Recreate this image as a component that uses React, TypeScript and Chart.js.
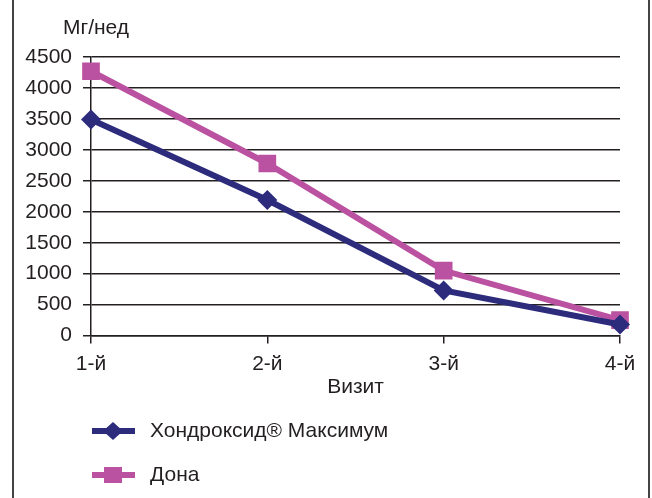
import React, { useEffect, useRef } from "react";
import { Chart, registerables } from "chart.js";
Chart.register(...registerables);

const visits = ["1-й", "2-й", "3-й", "4-й"];
const hondroxidValues = [3490, 2190, 730, 180];
const donaValues = [4270, 2780, 1050, 250];
const seriesNames = ["Хондроксид® Максимум", "Дона"];
const yAxisLabel = "Мг/нед";
const xAxisLabel = "Визит";
const yMin = 0;
const yMax = 4500;
const yStep = 500;

const NAVY = "#2d2b7c";
const PINK = "#bb52a1";
const INK = "#231f20";
const FONT = "'Liberation Sans', Arial, sans-serif";
const FS = 21;

const framePlugin = {
  id: "framePlugin",
  afterDraw(chart: any) {
    const ctx = chart.ctx;
    ctx.save();
    ctx.strokeStyle = "#444";
    ctx.lineWidth = 2;
    ctx.beginPath();
    ctx.moveTo(13, 0);
    ctx.lineTo(13, chart.height);
    ctx.moveTo(649, 0);
    ctx.lineTo(649, chart.height);
    ctx.stroke();
    ctx.fillStyle = INK;
    ctx.font = `${FS}px ${FONT}`;
    ctx.textAlign = "left";
    ctx.textBaseline = "middle";
    ctx.fillText(yAxisLabel, 63, 28);
    chart.data.datasets.forEach((ds: any, i: number) => {
      const y = 431 + i * 44;
      ctx.strokeStyle = ds.borderColor;
      ctx.lineWidth = 6;
      ctx.beginPath();
      ctx.moveTo(92, y);
      ctx.lineTo(135, y);
      ctx.stroke();
      ctx.fillStyle = ds.borderColor;
      ctx.beginPath();
      if (ds.pointStyle === "rectRot") {
        ctx.moveTo(113 - 10, y);
        ctx.lineTo(113, y - 9);
        ctx.lineTo(113 + 10, y);
        ctx.lineTo(113, y + 9);
        ctx.closePath();
      } else {
        ctx.rect(113 - 9, y - 8, 18, 16);
      }
      ctx.fill();
      ctx.fillStyle = INK;
      ctx.font = `${FS}px ${FONT}`;
      ctx.textAlign = "left";
      ctx.textBaseline = "middle";
      ctx.fillText(ds.label, 150, y);
    });
    ctx.restore();
  },
};

export default function App() {
  const ref = useRef<HTMLCanvasElement | null>(null);
  useEffect(() => {
    if (!ref.current) return;
    const chart = new Chart(ref.current, {
      type: "line",
      data: {
        labels: visits,
        datasets: [
          {
            label: seriesNames[0],
            data: hondroxidValues,
            borderColor: NAVY,
            backgroundColor: NAVY,
            borderWidth: 6,
            pointStyle: "rectRot",
            pointRadius: 10,
            pointBorderWidth: 0,
            pointBackgroundColor: NAVY,
            tension: 0,
          },
          {
            label: seriesNames[1],
            data: donaValues,
            borderColor: PINK,
            backgroundColor: PINK,
            borderWidth: 6,
            pointStyle: "rect",
            pointRadius: 12.5,
            pointBorderWidth: 0,
            pointBackgroundColor: PINK,
            tension: 0,
          },
        ],
      },
      options: {
        animation: false,
        responsive: false,
        devicePixelRatio: 1,
        layout: { padding: { left: 0, right: 32, top: 57, bottom: 98 } },
        plugins: { legend: { display: false }, tooltip: { enabled: false } },
        scales: {
          x: {
            offset: false,
            grid: {
              drawOnChartArea: false,
              drawTicks: true,
              tickLength: 8,
              color: INK,
              lineWidth: 1.5,
            },
            border: { display: true, color: INK, width: 1.5 },
            ticks: {
              color: INK,
              font: { family: FONT, size: FS },
              padding: 8,
              maxRotation: 0,
            },
            title: {
              display: true,
              text: xAxisLabel,
              color: INK,
              font: { family: FONT, size: FS },
              padding: { top: -10, bottom: 0 },
            },
          },
          y: {
            min: yMin,
            max: yMax,
            afterFit: (scale: any) => {
              scale.width = 91;
            },
            ticks: {
              stepSize: yStep,
              color: INK,
              font: { family: FONT, size: FS },
              padding: 11,
              callback: (v: any) => String(v),
            },
            grid: {
              color: INK,
              lineWidth: 1.5,
              tickLength: 8,
              drawTicks: true,
            },
            border: { display: true, color: INK, width: 1.5 },
          },
        },
      },
      plugins: [framePlugin],
    });
    return () => chart.destroy();
  }, []);
  return (
    <div style={{ position: "fixed", left: 0, top: 0, width: 652, height: 498, background: "#fff" }}>
      <canvas ref={ref} width={652} height={498} style={{ width: 652, height: 498 }} />
    </div>
  );
}
